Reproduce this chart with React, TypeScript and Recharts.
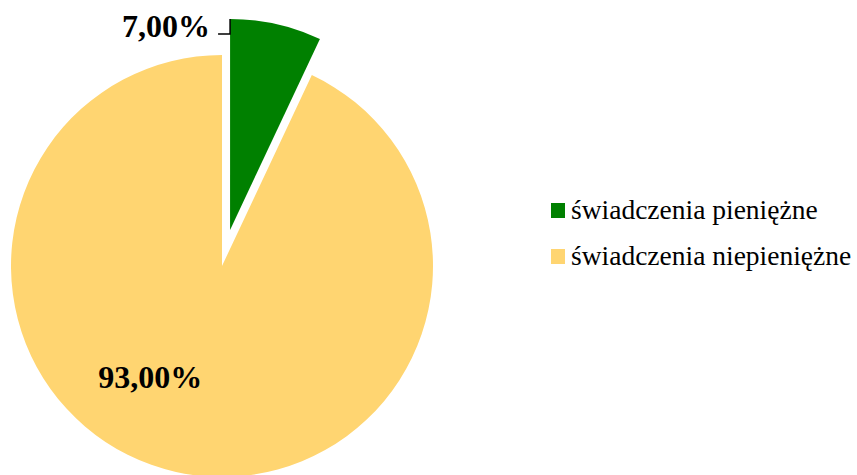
import { PieChart, Pie, Cell, Legend } from "recharts";

const categories = ["świadczenia pieniężne", "świadczenia niepieniężne"];
const shares = [7, 93];
const colors = ["#008000", "#FFD571"];

const data = categories.map((name, i) => ({ name, value: shares[i] }));

const W = 857;
const H = 475;
const CX = 222;
const CY = 266;
const R = 211;
const EXPLODE = 37;
const SERIF = '"Liberation Serif", "Times New Roman", Times, serif';

// the green slice is pulled out along its bisector
const total = shares.reduce((a, b) => a + b, 0);
const midRad = (shares[0] / total) * Math.PI;
const gx = CX + EXPLODE * Math.sin(midRad);
const gy = CY - EXPLODE * Math.cos(midRad);

const fmt = (p: number) => (p * 100).toFixed(2).replace(".", ",") + "%";

const labelFont = {
  fontFamily: SERIF,
  fontSize: 32,
  fontWeight: 700,
  fill: "#000",
};

const renderLabel = (props: any) => {
  const { cx, cy, outerRadius, percent, index } = props;
  if (index === 0) {
    const top = cy - outerRadius;
    return (
      <g>
        <path d={`M${cx - 12},${top + 15}H${cx}V${top}`} stroke="#000" strokeWidth={1.5} fill="none" />
        <text x={cx - 20} y={top + 18} textAnchor="end" style={labelFont}>
          {fmt(percent)}
        </text>
      </g>
    );
  }
  return (
    <text
      x={cx - outerRadius * 0.34}
      y={cy + outerRadius * 0.526}
      textAnchor="middle"
      dominantBaseline="central"
      style={labelFont}
    >
      {fmt(percent)}
    </text>
  );
};

const LegendBox = () => (
  <div style={{ fontFamily: SERIF, fontSize: 27.5, color: "#000" }}>
    {categories.map((c, i) => (
      <div key={c} style={{ display: "flex", alignItems: "center", height: 46 }}>
        <span style={{ width: 14, height: 15, background: colors[i], marginRight: 6, display: "inline-block" }} />
        <span>{c}</span>
      </div>
    ))}
  </div>
);

export default function App() {
  return (
    <div style={{ position: "absolute", left: 0, top: 0, width: W, height: H, background: "#fff" }}>
      <PieChart width={W} height={H} margin={{ top: 0, right: 0, bottom: 0, left: 0 }}>
        <Pie
          data={data}
          dataKey="value"
          cx={CX}
          cy={CY}
          outerRadius={R}
          startAngle={90}
          endAngle={-270}
          stroke="none"
          isAnimationActive={false}
          labelLine={false}
          label={(p: any) => (p.index === 1 ? renderLabel(p) : null)}
          legendType="none"
        >
          {data.map((d, i) => (
            <Cell key={d.name} fill={i === 1 ? colors[1] : "transparent"} />
          ))}
        </Pie>
        <Pie
          data={data}
          dataKey="value"
          cx={gx}
          cy={gy}
          outerRadius={R}
          startAngle={90}
          endAngle={-270}
          stroke="none"
          isAnimationActive={false}
          labelLine={false}
          label={(p: any) => (p.index === 0 ? renderLabel(p) : null)}
          legendType="none"
        >
          {data.map((d, i) => (
            <Cell key={d.name} fill={i === 0 ? colors[0] : "transparent"} />
          ))}
        </Pie>
        <Legend
          content={<LegendBox />}
          wrapperStyle={{ left: 551, top: 187, width: 306 }}
        />
      </PieChart>
    </div>
  );
}
